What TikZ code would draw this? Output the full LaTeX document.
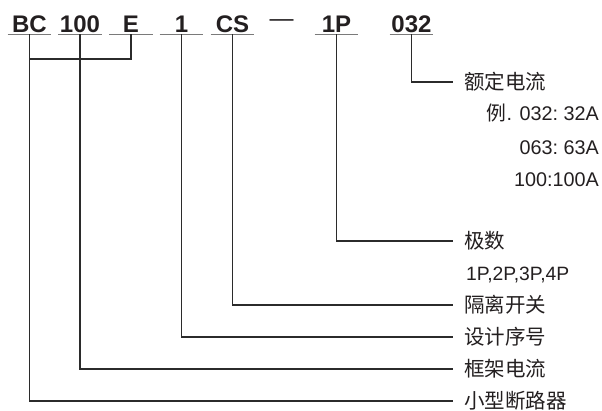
\documentclass[tikz,border=0pt]{standalone}
\usepackage{fontspec}
\setmainfont{Liberation Sans}
\newfontfamily\cjk{Noto Sans CJK SC}
\definecolor{ink}{HTML}{231F20}
\definecolor{linec}{HTML}{2B2B2B}
\definecolor{ulc}{HTML}{7A7A7A}
\begin{document}
\begin{tikzpicture}[x=1pt,y=-1pt,
  code/.style={anchor=base,inner sep=0pt,minimum width=43.5pt,text depth=2pt,
    font=\fontsize{24}{24}\selectfont\bfseries,text=ink},
  uline/.style={draw=ulc,line width=1.3pt},
  conn/.style={draw=linec,line width=1.2pt},
  lab/.style={anchor=west,inner sep=0pt,text=ink,text height=17pt,text depth=1.5pt,
    font=\fontsize{20.5}{20.5}\selectfont\cjk},
  latlab/.style={inner sep=0pt,text=ink,text height=14pt,text depth=0pt,
    font=\fontsize{19.8}{19.8}\selectfont}]
\useasboundingbox (0,0) rectangle (602,410);
% model code
\node[code] (bc)  at (29.5,32) {BC};
\node[code] (c100) at (80,32) {100};
\node[code] (ce)  at (131,32) {E};
\node[code] (c1)  at (181.5,32) {1};
\node[code] (ccs) at (232.5,32) {CS};
\node[anchor=base,inner sep=0pt,text=ink,font=\fontsize{24}{24}\selectfont] (dash) at (281.5,26.6) {—};
\node[code] (c1p) at (336.5,32) {1P};
\node[code] (c032) at (411.5,32) {032};
\foreach \n in {bc,c100,ce,c1,ccs,c1p,c032}
  \draw[uline] (\n.south west) -- (\n.south east);
% labels
\node[lab] (l032) at (464,82) {额定电流};
\node[latlab,anchor=east] (ex1) at (599,113) {{\cjk 例}. 032:\ 32A};
\node[latlab,anchor=east] (ex2) at (599,147) {063:\ 63A};
\node[latlab,anchor=east] (ex3) at (599,179) {100:100A};
\node[lab] (l1p) at (464,241) {极数};
\node[latlab,anchor=west,font=\fontsize{19.3}{19.3}\selectfont] (poles) at (466,273) {1P,2P,3P,4P};
\node[lab] (lcs) at (464,305) {隔离开关};
\node[lab] (l1) at (464,337) {设计序号};
\node[lab] (l100) at (464,369) {框架电流};
\node[lab] (lbc) at (464,401) {小型断路器};
% connectors
\coordinate (ejoin) at (bc.south |- 0,59);
\draw[conn] (ce.south) |- (ejoin);
\draw[conn] (c032.south) |- ([xshift=-11pt]l032.west);
\draw[conn] (c1p.south) |- ([xshift=-11pt]l1p.west);
\draw[conn] (ccs.south) |- ([xshift=-11pt]lcs.west);
\draw[conn] (c1.south) |- ([xshift=-11pt]l1.west);
\draw[conn] (c100.south) |- ([xshift=-11pt]l100.west);
\draw[conn] (bc.south) |- ([xshift=-11pt]lbc.west);
\end{tikzpicture}
\end{document}
